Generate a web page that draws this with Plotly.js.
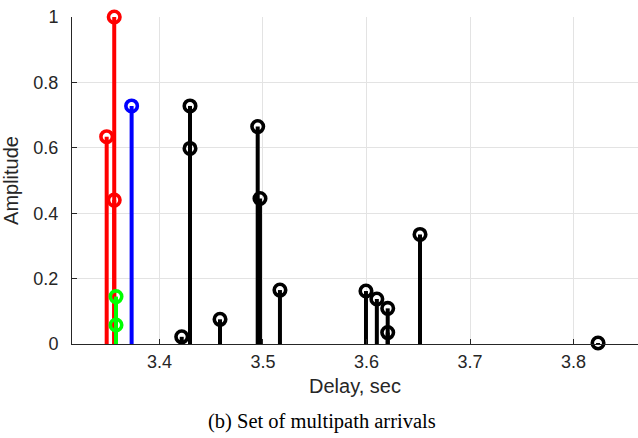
<!DOCTYPE html>
<html><head><meta charset="utf-8">
<script src="https://cdn.plot.ly/plotly-3.0.1.min.js"></script>
<style>html,body{margin:0;padding:0;background:#fff;}#c{width:638px;height:438px;}</style>
</head><body><div id="c"></div>
<script>
const redDelay = [3.349, 3.3563, 3.3563];
const redAmp = [0.634, 1.0, 0.44];
const greenDelay = [3.358, 3.358];
const greenAmp = [0.145, 0.058];
const blueDelay = [3.3731];
const blueAmp = [0.728];
const blackDelay = [3.4215, 3.4295, 3.4295, 3.4585, 3.4949, 3.4971, 3.5164, 3.5995, 3.610, 3.6205, 3.6205, 3.6517, 3.8237];
const blackAmp = [0.022, 0.728, 0.598, 0.0755, 0.665, 0.445, 0.165, 0.162, 0.1376, 0.109, 0.035, 0.335, 0.003];
const xTicks = [3.4, 3.5, 3.6, 3.7, 3.8];
const yTicks = [0, 0.2, 0.4, 0.6, 0.8, 1];
const yTickText = ['0', '0.2', '0.4', '0.6', '0.8', '1'];

const series = [
  {x: redDelay, y: redAmp, c: '#ff0000'},
  {x: greenDelay, y: greenAmp, c: '#00ff00'},
  {x: blueDelay, y: blueAmp, c: '#0000ff'},
  {x: blackDelay, y: blackAmp, c: '#000000'}
];
const traces = [];
series.forEach(s => {
  const sx = [], sy = [];
  s.x.forEach((d, i) => { sx.push(d, d, null); sy.push(0, s.y[i], null); });
  traces.push({x: sx, y: sy, mode: 'lines', line: {color: s.c, width: 4}, hoverinfo: 'skip', showlegend: false, cliponaxis: false});
  traces.push({x: s.x, y: s.y, mode: 'markers', marker: {symbol: 'circle-open', size: 11.5, color: s.c, line: {width: 3.6, color: s.c}}, hoverinfo: 'skip', showlegend: false, cliponaxis: false});
});

const layout = {
  width: 638, height: 438,
  margin: {l: 72, r: 0, t: 17, b: 94},
  paper_bgcolor: '#fff', plot_bgcolor: '#fff',
  font: {family: 'Liberation Sans, Arial, sans-serif', color: '#262626'},
  xaxis: {
    range: [3.3155, 3.8623], tickvals: xTicks, ticktext: xTicks.map(v => v.toFixed(1)),
    ticks: 'inside', ticklen: 5, tickcolor: '#262626', tickwidth: 1,
    showgrid: true, gridcolor: '#e3e3e3', gridwidth: 1, zeroline: false,
    showline: true, linecolor: '#262626', linewidth: 1,
    tickfont: {size: 18, color: '#262626'}, ticklabelstandoff: 1,
    title: {text: 'Delay, sec', font: {size: 20, color: '#262626'}, standoff: 8}
  },
  yaxis: {
    range: [0, 1], tickvals: yTicks, ticktext: yTickText,
    ticks: 'inside', ticklen: 5, tickcolor: '#262626', tickwidth: 1,
    showgrid: true, gridcolor: '#e3e3e3', gridwidth: 1, zeroline: false,
    showline: true, linecolor: '#262626', linewidth: 1,
    tickfont: {size: 18, color: '#262626'}, ticklabelstandoff: 9,
    title: {text: 'Amplitude', font: {size: 20, color: '#262626'}, standoff: 9}
  },
  annotations: [{
    text: '(b) Set of multipath arrivals', xref: 'paper', yref: 'paper',
    x: (322 - 72) / 566, y: -(421.5 - 344) / 327, xanchor: 'center', yanchor: 'middle', showarrow: false,
    font: {family: 'Liberation Serif, Times New Roman, serif', size: 20.5, color: '#000'}
  }]
};
Plotly.newPlot('c', traces, layout, {displayModeBar: false, staticPlot: true});
</script></body></html>
